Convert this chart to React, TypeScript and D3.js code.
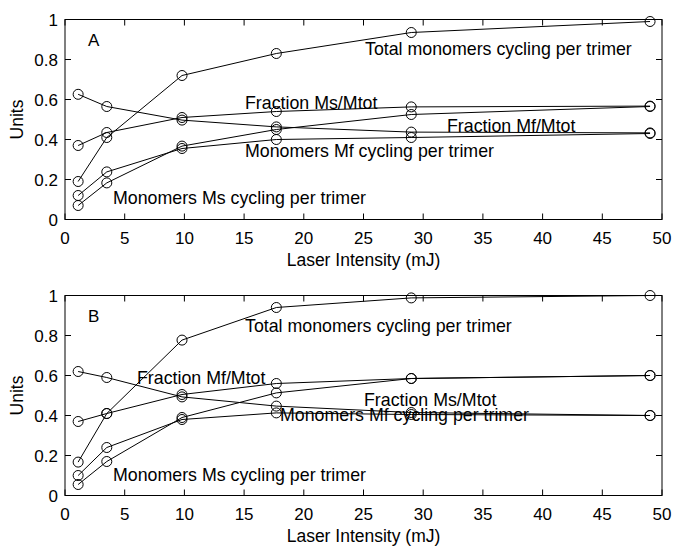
import React from "react";
import * as d3 from "d3";

const intensity = [1.1, 3.5, 9.8, 17.7, 29, 49];

const aTotal = [0.19, 0.41, 0.72, 0.83, 0.935, 0.99];
const aFracMs = [0.37, 0.435, 0.51, 0.54, 0.563, 0.567];
const aFracMf = [0.626, 0.565, 0.497, 0.463, 0.437, 0.433];
const aMonoMs = [0.07, 0.183, 0.367, 0.45, 0.525, 0.565];
const aMonoMf = [0.12, 0.238, 0.355, 0.4, 0.41, 0.43];

const bTotal = [0.167, 0.41, 0.777, 0.94, 0.988, 1.0];
const bFracMs = [0.37, 0.41, 0.505, 0.56, 0.585, 0.6];
const bFracMf = [0.62, 0.59, 0.493, 0.447, 0.415, 0.4];
const bMonoMs = [0.055, 0.17, 0.39, 0.513, 0.585, 0.6];
const bMonoMf = [0.1, 0.24, 0.38, 0.413, 0.405, 0.4];

const xTicks = [0, 5, 10, 15, 20, 25, 30, 35, 40, 45, 50];
const yTicks = [0, 0.2, 0.4, 0.6, 0.8, 1];
const yTickLabels = ["0", "0.2", "0.4", "0.6", "0.8", "1"];

const labelTotal = "Total monomers cycling per trimer";
const labelFracMs = "Fraction Ms/Mtot";
const labelFracMf = "Fraction Mf/Mtot";
const labelMonoMf = "Monomers Mf cycling per trimer";
const labelMonoMs = "Monomers Ms cycling per trimer";

const FONT = "'Liberation Sans', Arial, Helvetica, sans-serif";

type Ann = { text: string; x: number; y: number };

function Panel({
  top,
  letter,
  series,
  anns,
}: {
  top: number;
  letter: string;
  series: number[][];
  anns: Ann[];
}) {
  const left = 65;
  const right = 662;
  const height = 200;
  const bottom = top + height;
  const x = d3.scaleLinear().domain([0, 50]).range([left, right]);
  const y = d3.scaleLinear().domain([0, 1]).range([bottom, top]);
  const line = d3
    .line<number>()
    .x((_, i) => x(intensity[i]))
    .y((d) => y(d));
  const tl = 6;
  return (
    <g>
      <rect x={left} y={top} width={right - left} height={height} fill="white" stroke="black" strokeWidth={1} />
      {xTicks.map((t) => (
        <g key={"x" + t}>
          <line x1={x(t)} x2={x(t)} y1={bottom} y2={bottom - tl} stroke="black" />
          <line x1={x(t)} x2={x(t)} y1={top} y2={top + tl} stroke="black" />
          <text x={x(t)} y={bottom + 24} textAnchor="middle" fontSize={17} fontFamily={FONT}>
            {t}
          </text>
        </g>
      ))}
      {yTicks.map((t, i) => (
        <g key={"y" + t}>
          <line x1={left} x2={left + tl} y1={y(t)} y2={y(t)} stroke="black" />
          <line x1={right} x2={right - tl} y1={y(t)} y2={y(t)} stroke="black" />
          <text x={58} y={y(t) + 6} textAnchor="end" fontSize={17} fontFamily={FONT}>
            {yTickLabels[i]}
          </text>
        </g>
      ))}
      {series.map((s, k) => (
        <g key={"s" + k}>
          <path d={line(s) || ""} fill="none" stroke="black" strokeWidth={1} />
          {s.map((v, i) => (
            <circle key={i} cx={x(intensity[i])} cy={y(v)} r={5} fill="none" stroke="black" strokeWidth={1} />
          ))}
        </g>
      ))}
      {anns.map((a, i) => (
        <text key={"a" + i} x={a.x} y={top + a.y} fontSize={17.8} fontFamily={FONT}>
          {a.text}
        </text>
      ))}
      <text x={88} y={top + 26.5} fontSize={17} fontFamily={FONT}>
        {letter}
      </text>
      <text x={(left + right) / 2} y={bottom + 46} textAnchor="middle" fontSize={17.5} fontFamily={FONT}>
        Laser Intensity (mJ)
      </text>
      <text
        transform={`translate(23,${(top + bottom) / 2}) rotate(-90)`}
        textAnchor="middle"
        fontSize={17.5}
        fontFamily={FONT}
      >
        Units
      </text>
    </g>
  );
}

export default function App() {
  const annsA: Ann[] = [
    { text: labelTotal, x: 365, y: 35.5 },
    { text: labelFracMs, x: 245, y: 89.5 },
    { text: labelFracMf, x: 447, y: 112.5 },
    { text: labelMonoMf, x: 245, y: 137.5 },
    { text: labelMonoMs, x: 113, y: 184 },
  ];
  const annsB: Ann[] = [
    { text: labelTotal, x: 245, y: 36.5 },
    { text: labelFracMf, x: 137, y: 88.5 },
    { text: labelFracMs, x: 364, y: 110.5 },
    { text: labelMonoMf, x: 280, y: 125 },
    { text: labelMonoMs, x: 113, y: 185.5 },
  ];
  return (
    <svg
      width={676}
      height={556}
      style={{ position: "absolute", left: 0, top: 0, background: "white" }}
    >
      <rect x={0} y={0} width={676} height={556} fill="white" />
      <Panel top={19.5} letter="A" series={[aTotal, aFracMs, aFracMf, aMonoMs, aMonoMf]} anns={annsA} />
      <Panel top={295.5} letter="B" series={[bTotal, bFracMs, bFracMf, bMonoMs, bMonoMf]} anns={annsB} />
    </svg>
  );
}
